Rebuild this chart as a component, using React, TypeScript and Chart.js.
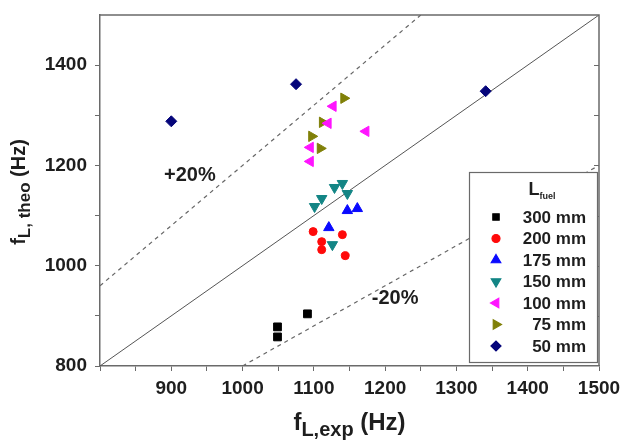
import { useEffect, useRef } from 'react';
import { Chart, registerables } from 'chart.js';
import { drawPoint } from 'chart.js/helpers';

Chart.register(...registerables);

const FONT = '"Liberation Sans", Arial, Helvetica, sans-serif';
const AXIS_COLOR = '#6a6a6a';
const TEXT_COLOR = '#1e1e1e';

// Fuel lengths (legend entries)
const fuelLengths = ['300 mm', '200 mm', '175 mm', '150 mm', '100 mm', '75 mm', '50 mm'];

// Experimental vs. theoretical frequencies (Hz) per fuel length
const exp300 = [1091, 1049, 1049];
const theo300 = [904, 878, 858];

const exp200 = [1099, 1140, 1111, 1111, 1144];
const theo200 = [1068, 1062, 1048, 1032, 1020];

const exp175 = [1147, 1161, 1121];
const theo175 = [1110, 1114, 1076];

const exp150 = [1140, 1129, 1147, 1111, 1101, 1126];
const theo150 = [1164, 1156, 1144, 1134, 1118, 1042];

const exp100 = [1127, 1120, 1173, 1095, 1095];
const theo100 = [1318, 1284, 1268, 1236, 1208];

const exp75 = [1142, 1112, 1097, 1109];
const theo75 = [1334, 1286, 1258, 1234];

const exp50 = [900, 1075, 1341];
const theo50 = [1288, 1362, 1348];

const expSeries = [exp300, exp200, exp175, exp150, exp100, exp75, exp50];
const theoSeries = [theo300, theo200, theo175, theo150, theo100, theo75, theo50];

// Reference lines: perfect agreement and ±20 %
const diagX = [800, 1500];
const diagY = [800, 1500];
const plusX = [800, 1250];
const plusY = [960, 1500];
const minusX = [1000, 1500];
const minusY = [800, 1200];

// Axis ranges and labelled ticks
const X_MIN = 800;
const X_MAX = 1500;
const Y_MIN = 800;
const Y_MAX = 1500;
const xTickLabels = [900, 1000, 1100, 1200, 1300, 1400, 1500];
const yTickLabels = [800, 1000, 1200, 1400];

// Marker styles per series
const markerColors = ['#000000', '#ff0a0a', '#0a0aff', '#138585', '#ff14ff', '#808008', '#05057a'];
const markerShapes = ['rect', 'circle', 'triangle', 'triangle', 'triangle', 'triangle', 'rectRot'];
const markerRotations = [0, 0, 0, 180, 270, 90, 0];
const markerRadii = [5.5, 4, 6, 6, 6, 6, 5.5];
const legendRadii = [4.5, 4, 5.5, 5.5, 5.5, 5.5, 5];

const zip = (xs: number[], ys: number[]) => xs.map((x, i) => ({ x, y: ys[i] }));

function drawRich(
  ctx: CanvasRenderingContext2D,
  parts: { text: string; size: number; dy: number }[],
  cx: number,
  baseline: number
) {
  let total = 0;
  for (const p of parts) {
    ctx.font = `bold ${p.size}px ${FONT}`;
    total += ctx.measureText(p.text).width;
  }
  let x = cx - total / 2;
  ctx.textAlign = 'left';
  ctx.textBaseline = 'alphabetic';
  for (const p of parts) {
    ctx.font = `bold ${p.size}px ${FONT}`;
    ctx.fillText(p.text, x, baseline + p.dy);
    x += ctx.measureText(p.text).width;
  }
}

const decorPlugin = {
  id: 'decor',
  afterDatasetsDraw(chart: any) {
    const { ctx, chartArea: a, scales } = chart;
    ctx.save();

    // top and right frame lines with inward ticks on the right
    ctx.strokeStyle = AXIS_COLOR;
    ctx.lineWidth = 1.5;
    ctx.beginPath();
    ctx.moveTo(a.left, a.top);
    ctx.lineTo(a.right, a.top);
    ctx.lineTo(a.right, a.bottom);
    ctx.stroke();
    ctx.lineWidth = 1;
    ctx.beginPath();
    for (let v = Y_MIN + 100; v < Y_MAX; v += 100) {
      const y = Math.round(scales.y.getPixelForValue(v)) + 0.5;
      ctx.moveTo(a.right, y);
      ctx.lineTo(a.right - 5, y);
    }
    ctx.stroke();

    // band annotations
    ctx.fillStyle = TEXT_COLOR;
    ctx.font = `bold 20px ${FONT}`;
    ctx.textAlign = 'center';
    ctx.textBaseline = 'middle';
    ctx.fillText('+20%', scales.x.getPixelForValue(926), scales.y.getPixelForValue(1180));
    ctx.fillText('-20%', scales.x.getPixelForValue(1214), scales.y.getPixelForValue(934));

    // legend box
    const bw = 128;
    const bh = 190;
    const bx = a.right - 2 - bw;
    const by = a.top + 157;
    ctx.fillStyle = '#ffffff';
    ctx.fillRect(bx, by, bw, bh);
    ctx.strokeStyle = AXIS_COLOR;
    ctx.lineWidth = 1.2;
    ctx.strokeRect(bx + 0.5, by + 0.5, bw, bh);

    ctx.fillStyle = TEXT_COLOR;
    drawRich(
      ctx,
      [
        { text: 'L', size: 18, dy: 0 },
        { text: 'fuel', size: 9, dy: 4 },
      ],
      bx + 73,
      by + 23
    );

    fuelLengths.forEach((label, i) => {
      const cy = by + 45 + i * 21.5;
      ctx.fillStyle = markerColors[i];
      ctx.strokeStyle = markerColors[i];
      drawPoint(
        ctx,
        {
          pointStyle: markerShapes[i] as any,
          rotation: markerRotations[i],
          radius: legendRadii[i],
          borderWidth: 1,
        } as any,
        bx + 27,
        cy
      );
      ctx.fillStyle = TEXT_COLOR;
      ctx.font = `bold 17px ${FONT}`;
      ctx.textAlign = 'right';
      ctx.textBaseline = 'middle';
      ctx.fillText(label, bx + 117, cy + 1);
    });

    ctx.restore();
  },
  afterDraw(chart: any) {
    const { ctx, chartArea: a } = chart;
    ctx.save();
    ctx.fillStyle = TEXT_COLOR;

    // x-axis title
    drawRich(
      ctx,
      [
        { text: 'f', size: 24, dy: 0 },
        { text: 'L,exp', size: 20, dy: 6 },
        { text: ' (Hz)', size: 24, dy: 0 },
      ],
      (a.left + a.right) / 2,
      430
    );

    // y-axis title (rotated)
    ctx.translate(25, 192);
    ctx.rotate(-Math.PI / 2);
    drawRich(
      ctx,
      [
        { text: 'f', size: 20, dy: 0 },
        { text: 'L, theo', size: 17, dy: 5 },
        { text: ' (Hz)', size: 20, dy: 0 },
      ],
      0,
      0
    );
    ctx.restore();
  },
};

export default function App() {
  const canvasRef = useRef<HTMLCanvasElement | null>(null);

  useEffect(() => {
    const canvas = canvasRef.current;
    if (!canvas) return;

    const scatterSets = expSeries.map((xs, i) => ({
      label: fuelLengths[i],
      data: zip(xs, theoSeries[i]),
      pointStyle: markerShapes[i],
      rotation: markerRotations[i],
      pointRadius: markerRadii[i],
      pointBackgroundColor: markerColors[i],
      pointBorderColor: markerColors[i],
      pointBorderWidth: 1,
      showLine: false,
      order: 1,
    }));

    const refLine = (xs: number[], ys: number[], dash: number[], color: string, width: number) => ({
      label: '',
      data: zip(xs, ys),
      showLine: true,
      borderColor: color,
      borderWidth: width,
      borderDash: dash,
      pointRadius: 0,
      fill: false,
      order: 5,
    });

    const chart = new Chart(canvas, {
      type: 'scatter',
      data: {
        datasets: [
          ...scatterSets,
          refLine(diagX, diagY, [], '#555555', 1),
          refLine(plusX, plusY, [4, 4], '#666666', 1.2),
          refLine(minusX, minusY, [4, 4], '#666666', 1.2),
        ] as any,
      },
      options: {
        animation: false,
        responsive: false,
        devicePixelRatio: 1,
        layout: { padding: { top: 15, right: 30, left: 0, bottom: 0 } },
        plugins: {
          legend: { display: false },
          tooltip: { enabled: false },
          title: { display: false },
        },
        scales: {
          x: {
            type: 'linear',
            min: X_MIN,
            max: X_MAX,
            afterFit: (s: any) => {
              s.height = 75;
            },
            ticks: {
              stepSize: 50,
              autoSkip: false,
              maxRotation: 0,
              padding: 6,
              color: TEXT_COLOR,
              font: { family: FONT, size: 19, weight: 'bold' },
              callback: (v: any) => (xTickLabels.includes(Number(v)) ? String(v) : ''),
            },
            grid: {
              drawOnChartArea: false,
              drawTicks: true,
              tickLength: 5,
              color: AXIS_COLOR,
            },
            border: { color: AXIS_COLOR, width: 1.5 },
          },
          y: {
            type: 'linear',
            min: Y_MIN,
            max: Y_MAX,
            afterFit: (s: any) => {
              s.width = 100;
            },
            ticks: {
              stepSize: 100,
              autoSkip: false,
              padding: 8,
              color: TEXT_COLOR,
              font: { family: FONT, size: 19, weight: 'bold', lineHeight: 0.6 },
              callback: (v: any) => (yTickLabels.includes(Number(v)) ? String(v) : ''),
            },
            grid: {
              drawOnChartArea: false,
              drawTicks: true,
              tickLength: 5,
              color: (c: any) => (c.tick && c.tick.value === Y_MAX ? 'rgba(0,0,0,0)' : AXIS_COLOR),
            },
            border: { color: AXIS_COLOR, width: 1.5 },
          },
        },
      } as any,
      plugins: [decorPlugin],
    });

    return () => chart.destroy();
  }, []);

  return (
    <div style={{ position: 'absolute', left: 0, top: 0, width: 629, height: 441, background: '#ffffff' }}>
      <canvas ref={canvasRef} width={629} height={441} style={{ display: 'block' }} />
    </div>
  );
}
